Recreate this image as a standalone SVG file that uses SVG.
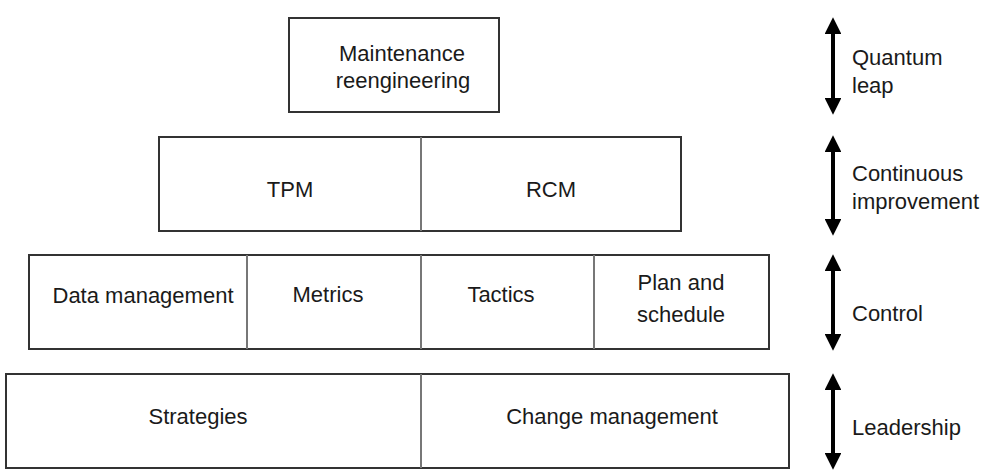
<svg xmlns="http://www.w3.org/2000/svg" width="987" height="475" viewBox="0 0 987 475">
<style>
.box{fill:#fff;stroke:#333;stroke-width:2}
.div{stroke:#777;stroke-width:2}
.t{font-family:"Liberation Sans",Arial,sans-serif;font-size:22px;fill:#1a1a1a;text-anchor:middle}
.l{font-family:"Liberation Sans",Arial,sans-serif;font-size:22px;fill:#1a1a1a}
.arr{stroke:#000;stroke-width:4;fill:none;marker-start:url(#ah);marker-end:url(#ah)}
</style>
<defs>
<marker id="ah" viewBox="0 0 10 10" refX="6" refY="5" markerWidth="4.2" markerHeight="4.2" orient="auto-start-reverse" markerUnits="strokeWidth">
<path d="M0,0 L10,5 L0,10 Z" fill="#000"/>
</marker>
</defs>
<rect width="987" height="475" fill="#fff"/>
<g id="maintenance-reengineering">
<rect class="box" x="289" y="18" width="210" height="94"/>
<text class="t" x="402" y="61">Maintenance</text>
<text class="t" x="403" y="88">reengineering</text>
</g>
<g id="row2">
<rect class="box" x="159" y="137" width="522" height="94"/>
<line class="div" x1="421" y1="137" x2="421" y2="231"/>
</g>
<g id="tpm"><text class="t" x="290" y="197">TPM</text></g>
<g id="rcm"><text class="t" x="551" y="197">RCM</text></g>
<g id="row3">
<rect class="box" x="29" y="255" width="740" height="94"/>
<line class="div" x1="247" y1="255" x2="247" y2="349"/>
<line class="div" x1="421" y1="255" x2="421" y2="349"/>
<line class="div" x1="594" y1="255" x2="594" y2="349"/>
</g>
<g id="data-management"><text class="t" x="143" y="303">Data management</text></g>
<g id="metrics"><text class="t" x="328" y="302">Metrics</text></g>
<g id="tactics"><text class="t" x="501" y="302">Tactics</text></g>
<g id="plan-and-schedule">
<text class="t" x="681" y="290">Plan and</text>
<text class="t" x="681" y="322">schedule</text>
</g>
<g id="row4">
<rect class="box" x="6" y="374" width="783" height="94"/>
<line class="div" x1="421" y1="374" x2="421" y2="468"/>
</g>
<g id="strategies"><text class="t" x="198" y="424">Strategies</text></g>
<g id="change-management"><text class="t" x="612" y="424">Change management</text></g>
<g id="connectors">
<line class="arr" x1="833" y1="24" x2="833" y2="108"/>
<line class="arr" x1="833" y1="142" x2="833" y2="229"/>
<line class="arr" x1="833" y1="261" x2="833" y2="344"/>
<line class="arr" x1="833" y1="380" x2="833" y2="463"/>
</g>
<g id="quantum-leap">
<text class="l" x="852" y="65">Quantum</text>
<text class="l" x="852" y="93">leap</text>
</g>
<g id="continuous-improvement">
<text class="l" x="852" y="181">Continuous</text>
<text class="l" x="852" y="209">improvement</text>
</g>
<g id="control"><text class="l" x="852" y="321">Control</text></g>
<g id="leadership"><text class="l" x="852" y="435">Leadership</text></g>
</svg>
